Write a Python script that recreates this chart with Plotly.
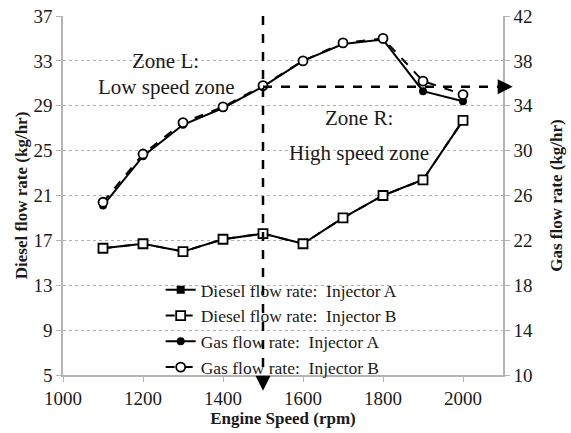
"""Diesel and gas flow rate vs engine speed, two injectors."""

import plotly.graph_objects as go

speed = [1100, 1200, 1300, 1400, 1500, 1600, 1700, 1800, 1900, 2000]
diesel_a = [16.3, 16.7, 16.0, 17.1, 17.6, 16.7, 19.0, 21.0, 22.4, 27.7]
diesel_b = [16.3, 16.7, 16.0, 17.1, 17.6, 16.7, 19.0, 21.0, 22.4, 27.7]
gas_a = [25.1, 29.5, 32.3, 33.8, 35.7, 38.0, 39.5, 39.9, 35.3, 34.4]
gas_b = [25.4, 29.7, 32.5, 33.9, 35.8, 38.0, 39.6, 40.0, 36.2, 35.0]

x_range = [1000, 2100]
diesel_range = [5, 37]
gas_range = [10, 42]
split_speed = 1500
split_gas = 35.7

FONT = "Liberation Serif, Times New Roman, serif"
AXIS_GREY = "#b4b4b4"
TEXT = "#1a1a1a"


def xfrac(v):
    return (v - x_range[0]) / (x_range[1] - x_range[0])


def gfrac(v):
    return (v - gas_range[0]) / (gas_range[1] - gas_range[0])


fig = go.Figure()
fig.add_trace(go.Scatter(
    x=speed, y=diesel_a, name="Diesel flow rate:  Injector A", mode="lines+markers",
    line=dict(color="black", width=2),
    marker=dict(symbol="square", size=8, color="black"),
))
fig.add_trace(go.Scatter(
    x=speed, y=diesel_b, name="Diesel flow rate:  Injector B", mode="lines+markers",
    line=dict(color="black", width=2, dash="dash"),
    marker=dict(symbol="square", size=9, color="white", line=dict(color="black", width=1.8)),
))
fig.add_trace(go.Scatter(
    x=speed, y=gas_a, name="Gas flow rate:  Injector A", mode="lines+markers", yaxis="y2",
    line=dict(color="black", width=2),
    marker=dict(symbol="circle", size=8, color="black"),
))
fig.add_trace(go.Scatter(
    x=speed, y=gas_b, name="Gas flow rate:  Injector B", mode="lines+markers", yaxis="y2",
    line=dict(color="black", width=2, dash="dash"),
    marker=dict(symbol="circle", size=9, color="white", line=dict(color="black", width=1.8)),
))

# zone split lines with arrow heads
fig.add_shape(type="line", xref="paper", yref="paper",
              x0=xfrac(split_speed), x1=xfrac(split_speed), y0=1, y1=-0.02,
              line=dict(color="black", width=2.5, dash="dash"))
fig.add_shape(type="line", xref="paper", yref="paper",
              x0=xfrac(split_speed), x1=0.99, y0=gfrac(split_gas), y1=gfrac(split_gas),
              line=dict(color="black", width=2.5, dash="dash"))
fig.add_annotation(x=xfrac(split_speed), y=-0.044, xref="paper", yref="paper",
                   ax=0, ay=-16, text="", showarrow=True, arrowhead=2, arrowsize=1.2,
                   arrowwidth=2.5, arrowcolor="black")
fig.add_annotation(x=1.022, y=gfrac(split_gas), xref="paper", yref="paper",
                   ax=-16, ay=0, text="", showarrow=True, arrowhead=2, arrowsize=1.2,
                   arrowwidth=2.5, arrowcolor="black")

for txt, x, y in [("Zone L:", 1257, 33.0), ("Low speed zone", 1257, 30.7),
                  ("Zone R:", 1740, 27.9), ("High speed zone", 1740, 24.8)]:
    fig.add_annotation(x=x, y=y, text=txt, showarrow=False,
                       font=dict(family=FONT, size=21, color=TEXT))

fig.update_layout(
    width=571, height=433,
    margin=dict(l=63, r=68, t=16, b=58, autoexpand=False),
    plot_bgcolor="white", paper_bgcolor="white",
    font=dict(family=FONT, size=19, color=TEXT),
    showlegend=True,
    legend=dict(x=0.222, y=0.287, xanchor="left", yanchor="top",
                bgcolor="rgba(0,0,0,0)", font=dict(family=FONT, size=17.5),
                tracegroupgap=0, itemwidth=30),
    xaxis=dict(range=x_range, dtick=200, tick0=1000, showgrid=False, automargin=False,
               showline=True, linecolor=AXIS_GREY, linewidth=1.5,
               ticks="outside", ticklen=5, tickcolor=AXIS_GREY,
               tickfont=dict(family=FONT, size=19),
               title=dict(text="<b>Engine Speed (rpm)</b>", standoff=3,
                          font=dict(family=FONT, size=17))),
    yaxis=dict(range=diesel_range, dtick=4, tick0=5, automargin=False,
               showgrid=True, gridcolor="#b0b0b0", griddash="dot", gridwidth=1,
               showline=True, linecolor=AXIS_GREY, linewidth=1.5,
               ticks="outside", ticklen=5, tickcolor=AXIS_GREY, zeroline=False,
               tickfont=dict(family=FONT, size=19),
               title=dict(text="<b>Diesel flow rate (kg/hr)</b>", standoff=2,
                          font=dict(family=FONT, size=17))),
    yaxis2=dict(range=gas_range, dtick=4, tick0=10, overlaying="y", side="right",
                automargin=False,
                showgrid=False, showline=True, linecolor=AXIS_GREY, linewidth=1.5,
                ticks="outside", ticklen=5, tickcolor=AXIS_GREY, zeroline=False,
                tickfont=dict(family=FONT, size=19),
                title=dict(text="<b>Gas flow rate (kg/hr)</b>", standoff=18,
                           font=dict(family=FONT, size=17))),
)

fig.write_html("out.html", config={"displayModeBar": False},
               post_script="document.body.style.margin = '0';")
